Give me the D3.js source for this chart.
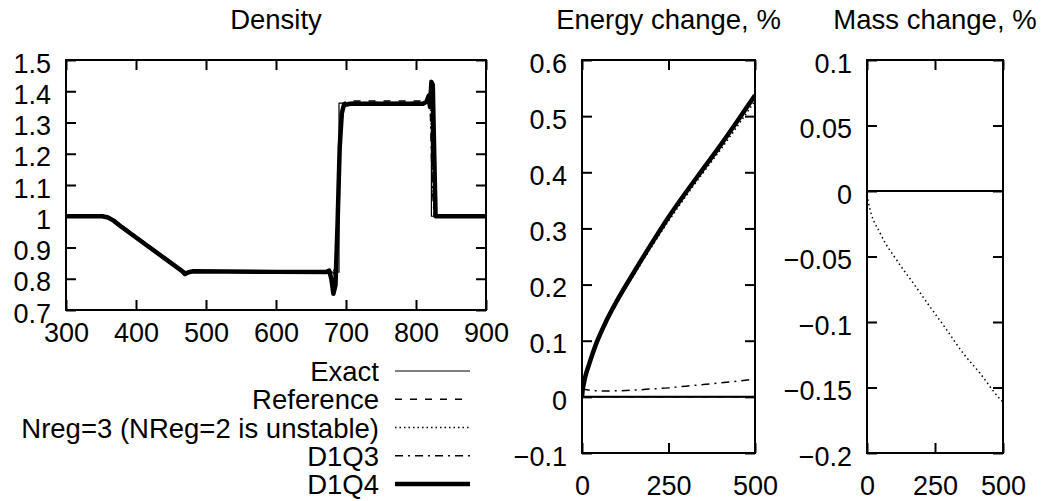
<!DOCTYPE html>
<html><head><meta charset="utf-8">
<script src="https://cdn.jsdelivr.net/npm/d3@7"></script>
<style>
body{margin:0;background:#fff;}
text{font-family:"Liberation Sans",Arial,Helvetica,sans-serif;fill:#000;}
</style></head>
<body><svg id="c" width="1043" height="501"></svg>
<script>
// ---------- data ----------
const titles = ["Density", "Energy change, %", "Mass change, %"];
const seriesNames = ["Exact", "Reference", "Nreg=3 (NReg=2 is unstable)", "D1Q3", "D1Q4"];

const densXTicks = [300, 400, 500, 600, 700, 800, 900];
const densYTicks = [0.7, 0.8, 0.9, 1, 1.1, 1.2, 1.3, 1.4, 1.5];
const timeTicks = [0, 250, 500];
const energyYTicks = [-0.1, 0, 0.1, 0.2, 0.3, 0.4, 0.5, 0.6];
const massYTicks = [-0.2, -0.15, -0.1, -0.05, 0, 0.05, 0.1];

// density profiles [x, rho]
const densExact = [[300,1],[358,1],[470,0.821],[690,0.821],[690,1.362],[822,1.362],[822,1],[900,1]];
const densReference = [[300,1],[355,1],[365,0.993],[375,0.978],[465,0.828],[472,0.822],[480,0.824],[680,0.824],[685,0.83],[688,0.95],[692,1.25],[696,1.362],[702,1.369],[812,1.369],[818,1.372],[822,1.3],[825,1.05],[828,1.0],[900,1]];
const densNreg = [[300,1],[356,1],[366,0.992],[376,0.976],[466,0.826],[473,0.821],[482,0.823],[676,0.823],[681,0.81],[685,0.84],[689,1.0],[693,1.28],[698,1.362],[812,1.362],[817,1.37],[820,1.4],[823,1.2],[826,1.0],[900,1]];
const densD1Q3 = [[300,1],[356,1],[366,0.992],[376,0.977],[466,0.826],[472,0.818],[480,0.823],[677,0.826],[682,0.79],[686,0.85],[690,1.15],[695,1.355],[702,1.364],[812,1.364],[816,1.375],[820,1.385],[823,1.1],[826,1.0],[900,1]];
const densD1Q4 = [[300,1],[352,1],[360,0.996],[368,0.986],[378,0.968],[465,0.826],[470,0.815],[475,0.821],[482,0.824],[600,0.822],[672,0.822],[676,0.826],[679,0.8],[682,0.752],[685,0.78],[688,0.98],[691,1.22],[694,1.33],[697,1.356],[706,1.36],[810,1.36],[815,1.366],[818,1.385],[820,1.35],[822,1.43],[824,1.42],[826,1.2],[828,1.0],[900,1]];

// energy change, % vs time
const energyT = [0, 2, 5, 10, 20, 40, 70, 100, 150, 200, 250, 300, 350, 400, 450, 500];
const energyExact = [0,0,0,0,0,0,0,0,0,0,0,0,0,0,0,0];
const energyReference = [0,0,0,0,0,0,0,0,0,0,0,0,0,0,0,0];
const energyNreg = [0, 0.012, 0.022, 0.035, 0.055, 0.09, 0.132, 0.166, 0.217, 0.266, 0.313, 0.357, 0.399, 0.44, 0.483, 0.527];
const energyD1Q3 = [0.015, 0.015, 0.014, 0.013, 0.012, 0.011, 0.0105, 0.0108, 0.012, 0.014, 0.016, 0.019, 0.022, 0.025, 0.028, 0.032];
const energyD1Q4 = [0, 0.013, 0.023, 0.037, 0.057, 0.093, 0.135, 0.17, 0.222, 0.272, 0.32, 0.364, 0.406, 0.448, 0.492, 0.537];

// mass change, % vs time
const massT = [0, 6, 49, 110, 171, 232, 293, 354, 415, 488, 500];
const massExact = [0,0,0,0,0,0,0,0,0,0,0];
const massReference = [0,0,0,0,0,0,0,0,0,0,0];
const massNreg = [-0.003, -0.0095, -0.0325, -0.053, -0.0706, -0.0885, -0.106, -0.124, -0.139, -0.1585, -0.161];

// ---------- styles ----------
const styles = {
  "Exact": {w: 1.2, dash: null},
  "Reference": {w: 1.5, dash: "7,8"},
  "Nreg=3 (NReg=2 is unstable)": {w: 1.5, dash: "1.5,3"},
  "D1Q3": {w: 1.5, dash: "8,5,2,5"},
  "D1Q4": {w: 4.5, dash: null}
};

const svg = d3.select("#c");
const FS = 27;

function panel(opt) {
  const {l, r, t, b, xd, yd, xt, yt, title, xPad, yFmt} = opt;
  const x = d3.scaleLinear().domain(xd).range([l, r]);
  const y = d3.scaleLinear().domain(yd).range([b, t]);
  const g = svg.append("g");
  const tk = 10;
  const axL = d3.axisLeft(y).tickValues(yt).tickSize(-tk).tickPadding(15).tickFormat(yFmt);
  const axR = d3.axisRight(y).tickValues(yt).tickSize(-tk).tickFormat("");
  const axB = d3.axisBottom(x).tickValues(xt).tickSize(-tk).tickPadding(xPad).tickFormat(d3.format("d"));
  const axT = d3.axisTop(x).tickValues(xt).tickSize(-tk).tickFormat("");
  const gl = g.append("g").attr("transform", `translate(${l},0)`).call(axL);
  g.append("g").attr("transform", `translate(${r},0)`).call(axR);
  g.append("g").attr("transform", `translate(0,${b})`).call(axB);
  g.append("g").attr("transform", `translate(0,${t})`).call(axT);
  g.selectAll(".domain").remove();
  g.selectAll(".tick line").attr("stroke", "#000").attr("stroke-width", 2);
  g.selectAll("text").attr("font-size", FS).attr("font-family", "Liberation Sans, Arial, sans-serif").attr("fill", "#000");
  gl.selectAll("text").attr("dy", "0.45em");
  svg.append("text").attr("x", (l + r) / 2).attr("y", 29).attr("text-anchor", "middle")
    .attr("font-size", FS + 0.5).text(title);
  return {x, y, g, l, r, t, b};
}

function drawLine(p, pts, name, curve) {
  const st = styles[name];
  const clipId = "clip" + Math.round(p.l);
  const path = svg.append("path").datum(pts)
    .attr("fill", "none").attr("stroke", "#000")
    .attr("stroke-width", st.w)
    .attr("stroke-linejoin", "round")
    .attr("clip-path", `url(#${clipId})`)
    .attr("d", d3.line().curve(curve || d3.curveLinear).x(d => p.x(d[0])).y(d => p.y(d[1])));
  if (st.dash) path.attr("stroke-dasharray", st.dash);
}
function addClip(p) {
  svg.append("clipPath").attr("id", "clip" + Math.round(p.l))
    .append("rect").attr("x", p.l).attr("y", p.t - 3).attr("width", p.r - p.l).attr("height", p.b - p.t + 6);
}
function frame(p) {
  svg.append("rect").attr("x", p.l).attr("y", p.t).attr("width", p.r - p.l).attr("height", p.b - p.t)
    .attr("fill", "none").attr("stroke", "#000").attr("stroke-width", 2);
}
const zip = (xs, ys) => xs.map((v, i) => [v, ys[i]]);
const smooth = d3.curveMonotoneX;

// ---------- panel 1: density ----------
const p1 = panel({l: 66, r: 486, t: 60, b: 310, xd: [300, 900], yd: [0.7, 1.5], xt: densXTicks, yt: densYTicks,
  title: titles[0], xPad: 13, yFmt: d => d3.format("")(+d.toFixed(1))});
addClip(p1);
drawLine(p1, densExact, "Exact");
drawLine(p1, densReference, "Reference");
drawLine(p1, densNreg, "Nreg=3 (NReg=2 is unstable)");
drawLine(p1, densD1Q3, "D1Q3");
drawLine(p1, densD1Q4, "D1Q4");
frame(p1);

// ---------- panel 2: energy ----------
const p2 = panel({l: 582, r: 755, t: 60, b: 453, xd: [0, 500], yd: [-0.1, 0.6], xt: timeTicks, yt: energyYTicks,
  title: titles[1], xPad: 23, yFmt: d => d3.format("")(+d.toFixed(1))});
addClip(p2);
drawLine(p2, zip(energyT, energyExact), "Exact");
drawLine(p2, zip(energyT, energyReference), "Reference");
drawLine(p2, zip(energyT, energyD1Q3), "D1Q3", smooth);
drawLine(p2, zip(energyT, energyNreg), "Nreg=3 (NReg=2 is unstable)", smooth);
drawLine(p2, zip(energyT, energyD1Q4), "D1Q4", smooth);
svg.append("line").attr("x1", p2.x(0)).attr("x2", p2.x(500)).attr("y1", p2.y(energyExact[0])).attr("y2", p2.y(energyExact[0]))
  .attr("stroke", "#000").attr("stroke-width", 2);
frame(p2);

// ---------- panel 3: mass ----------
const p3 = panel({l: 867, r: 1003, t: 60, b: 453, xd: [0, 500], yd: [-0.2, 0.1], xt: timeTicks, yt: massYTicks,
  title: titles[2], xPad: 23, yFmt: d => d3.format("")(+d.toFixed(2))});
addClip(p3);
drawLine(p3, zip(massT, massExact), "Exact");
drawLine(p3, zip(massT, massReference), "Reference");
drawLine(p3, zip(massT, massNreg), "Nreg=3 (NReg=2 is unstable)", smooth);
svg.append("line").attr("x1", p3.x(0)).attr("x2", p3.x(500)).attr("y1", p3.y(massExact[0])).attr("y2", p3.y(massExact[0]))
  .attr("stroke", "#000").attr("stroke-width", 2);
frame(p3);

// ---------- legend ----------
const legY = d3.scalePoint().domain(seriesNames).range([371, 484]);
const lg = svg.append("g");
seriesNames.forEach(n => {
  const yy = legY(n);
  lg.append("text").attr("x", 379).attr("y", yy + 10).attr("text-anchor", "end").attr("font-size", FS + 0.5).text(n);
  const st = styles[n];
  const ln = lg.append("line").attr("x1", 395).attr("x2", 470).attr("y1", yy).attr("y2", yy)
    .attr("stroke", "#000").attr("stroke-width", st.w);
  if (st.dash) ln.attr("stroke-dasharray", st.dash);
});
</script></body></html>
